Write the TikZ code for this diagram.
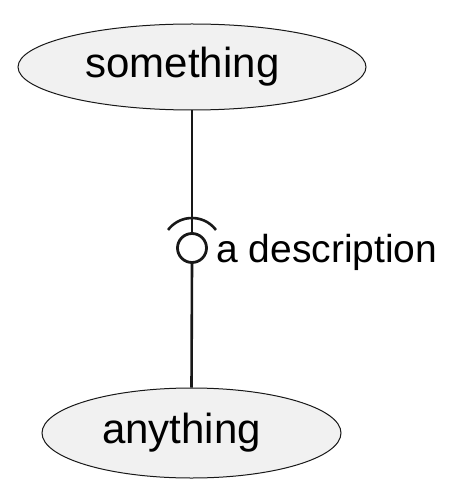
\documentclass[tikz,border=0pt]{standalone}
\usepackage{fontspec}
\setmainfont{Liberation Sans}
\usetikzlibrary{shapes.geometric}
\definecolor{ufill}{HTML}{F1F1F1}
\definecolor{uline}{HTML}{181818}
\tikzset{
  usecase/.style={ellipse, draw=uline, fill=ufill, line width=1pt, inner sep=0pt, font=\fontsize{42}{42}\selectfont},
  conn/.style={line width=2.6pt, draw=uline},
  lbl/.style={font=\fontsize{39}{39}\selectfont, inner sep=0pt, text=black}
}
\begin{document}
\begin{tikzpicture}[x=1pt,y=1pt]
\useasboundingbox (0,0) rectangle (459,-494);
\node[usecase, minimum width=348pt, minimum height=86pt] (top) at (192,-67) {something\hspace*{19pt}};
\node[usecase, minimum width=299pt, minimum height=90pt] (bot) at (191.5,-433) {anything\hspace*{20pt}};
\node[circle, draw=uline, line width=2.8pt, minimum size=29pt, inner sep=0pt] (iface) at (192,-248) {};
\draw[conn] (top.south) -- (iface.north);
\draw[conn] (iface.south) -- (bot.north);
\draw[conn] ([shift={(37:30)}]iface.center) arc[start angle=37, end angle=143, radius=30];
\node[lbl, anchor=base west] (desc) at (216,-262) {a description};
\end{tikzpicture}
\end{document}
